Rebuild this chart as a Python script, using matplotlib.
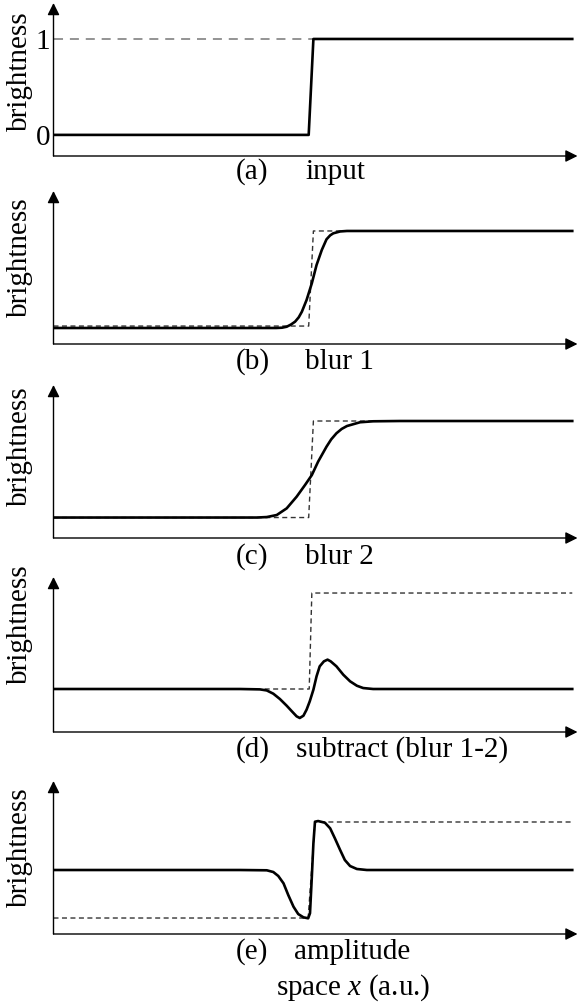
import matplotlib
matplotlib.use("Agg")
import matplotlib.pyplot as plt

plt.rcParams['font.family'] = ['Liberation Serif', 'DejaVu Serif']
plt.rcParams['mathtext.fontset'] = 'custom'
plt.rcParams['mathtext.rm'] = 'Liberation Serif'
plt.rcParams['mathtext.it'] = 'Liberation Serif:italic'

W, H = 578, 1005
FS = 21

# (a) input step
a_x = [0, 48.7, 49.6, 99]
a_y = [0, 0, 1, 1]
a_ref_x = [0, 99]
a_ref_y = [1, 1]

# (b) blur 1
b_x = [0, 40.0, 42.5, 43.6, 44.5, 45.3, 46.1, 46.8, 47.4, 48.3, 49.3, 50.2, 51.2, 52.1,
       52.8, 53.4, 54.7, 56.0, 60.0, 99]
b_y = [0, 0, 0.0, 0.003, 0.013, 0.035, 0.065, 0.11, 0.168, 0.289, 0.461, 0.649, 0.804, 0.914,
       0.955, 0.976, 0.995, 1.0, 1.0, 1.0]
b_ref_x = [0, 48.7, 49.6, 99]
b_ref_y = [0.02, 0.02, 1.0, 1.0]

# (c) blur 2
c_x = [0, 36.0, 38.8, 40.7, 42.6, 44.5, 46.4, 48.0, 49.3, 50.5, 52.1, 53.0, 54.0, 55.0,
       56.0, 58.5, 61.0, 66.1, 99]
c_y = [0, 0, 0.0, 0.005, 0.026, 0.095, 0.216, 0.337, 0.44, 0.579, 0.734, 0.81, 0.873, 0.918,
       0.948, 0.987, 0.997, 1.0, 1.0]
c_ref_x = [0, 48.7, 49.6, 99]
c_ref_y = [0, 0, 1, 1]

# (d) subtract (blur 1-2)
d_x = [0, 35.6, 39.4, 40.7, 41.95, 43.2, 44.5, 45.5, 46.4, 47.0, 47.7, 48.3, 48.9, 49.6,
       50.2, 50.8, 51.6, 52.3, 52.9, 54.0, 55.3, 56.6, 57.9, 59.1, 61.0, 99]
d_y = [0, 0, -0.004, -0.015, -0.049, -0.104, -0.174, -0.233, -0.285, -0.302, -0.278, -0.215,
       -0.129, -0.007, 0.132, 0.236, 0.288, 0.306, 0.288, 0.236, 0.149, 0.080, 0.034, 0.010, 0, 0]
d_ref_x = [40.3, 48.8, 49.3, 99]
d_ref_y = [0, 0, 1, 1]

# (e) amplitude
e_x = [0, 35.6, 40.7, 41.95, 42.9, 43.9, 44.8, 45.8, 46.7, 47.7, 48.6, 48.95, 49.3, 49.6,
       49.9, 50.5, 51.8, 52.8, 53.7, 54.7, 55.6, 56.6, 57.9, 59.8, 99]
e_y = [0, 0, -0.006, -0.042, -0.125, -0.278, -0.521, -0.764, -0.917, -0.986, -1.006, -0.90,
       -0.14, 0.556, 1.006, 1.02, 0.985, 0.868, 0.66, 0.417, 0.208, 0.083, 0.021, 0, 0]
e_ref_x = [0, 48.6, 49.9, 99]
e_ref_y = [-1, -1, 1, 1]

letters = ['(a)', '(b)', '(c)', '(d)', '(e)']
captions = ['input', 'blur 1', 'blur 2', 'subtract (blur 1-2)', 'amplitude']

# layout in pixels: (bottom of x axis, top arrow tip, ylim, label centre y)
panels = [
    (156, 3, (-0.22, 1.375), 71),
    (344, 191, (-0.165, 1.412), 257),
    (538, 385, (-0.212, 1.373), 446),
    (732, 577, (-0.448, 1.167), 624),
    (934, 781, (-1.333, 1.854), 847),
]
curves = [(a_x, a_y), (b_x, b_y), (c_x, c_y), (d_x, d_y), (e_x, e_y)]
refs = [(a_ref_x, a_ref_y), (b_ref_x, b_ref_y), (c_ref_x, c_ref_y),
        (d_ref_x, d_ref_y), (e_ref_x, e_ref_y)]
cap_x = [305, 305, 305, 296, 294]
cap_y = [172, 362, 557, 750, 952]

fig = plt.figure(figsize=(W / 100, H / 100), dpi=100)
left, right = 53.5, 577.5

for i, (bot, top, ylim, lab_y) in enumerate(panels):
    ax = fig.add_axes([left / W, 1 - bot / H, (right - left) / W, (bot - top) / H])
    ax.set_xlim(0, 100)
    ax.set_ylim(*ylim)
    for s in ax.spines.values():
        s.set_visible(False)
    ax.set_xticks([])
    if i == 0:
        ax.set_yticks([0, 1])
        ax.set_yticklabels(['0', '1'], fontsize=FS)
        ax.tick_params(axis='y', length=0, pad=2.5)
    else:
        ax.set_yticks([])
    # axes with arrow heads
    for xy in [(1, 0), (0, 1)]:
        ax.annotate('', xy=xy, xytext=(0, 0), xycoords='axes fraction',
                    arrowprops=dict(arrowstyle='-|>', color='k', lw=1.0,
                                    mutation_scale=18, shrinkA=0, shrinkB=0))
    rx, ry = refs[i]
    if i == 0:
        ax.plot(rx, ry, color='#777777', lw=1.1, linestyle=(0, (5.9, 4.5)))
    else:
        ax.plot(rx, ry, color='#333333', lw=1.0, linestyle=(0, (3.6, 2.5)))
    cx, cy = curves[i]
    ax.plot(cx, cy, color='k', lw=1.9, solid_joinstyle='round')

    fig.text(20 / W, 1 - lab_y / H, 'brightness', rotation=90, fontsize=FS,
             ha='center', va='center')
    fig.text(236 / W, 1 - cap_y[i] / H, letters[i], fontsize=FS, ha='left', va='center')
    fig.text(cap_x[i] / W, 1 - cap_y[i] / H, captions[i], fontsize=FS, ha='left', va='center')

fig.text(276 / W, 1 - 988 / H, 'space $x$ (a.u.)', fontsize=FS, ha='left', va='center')

fig.savefig('out.png', dpi=100)
